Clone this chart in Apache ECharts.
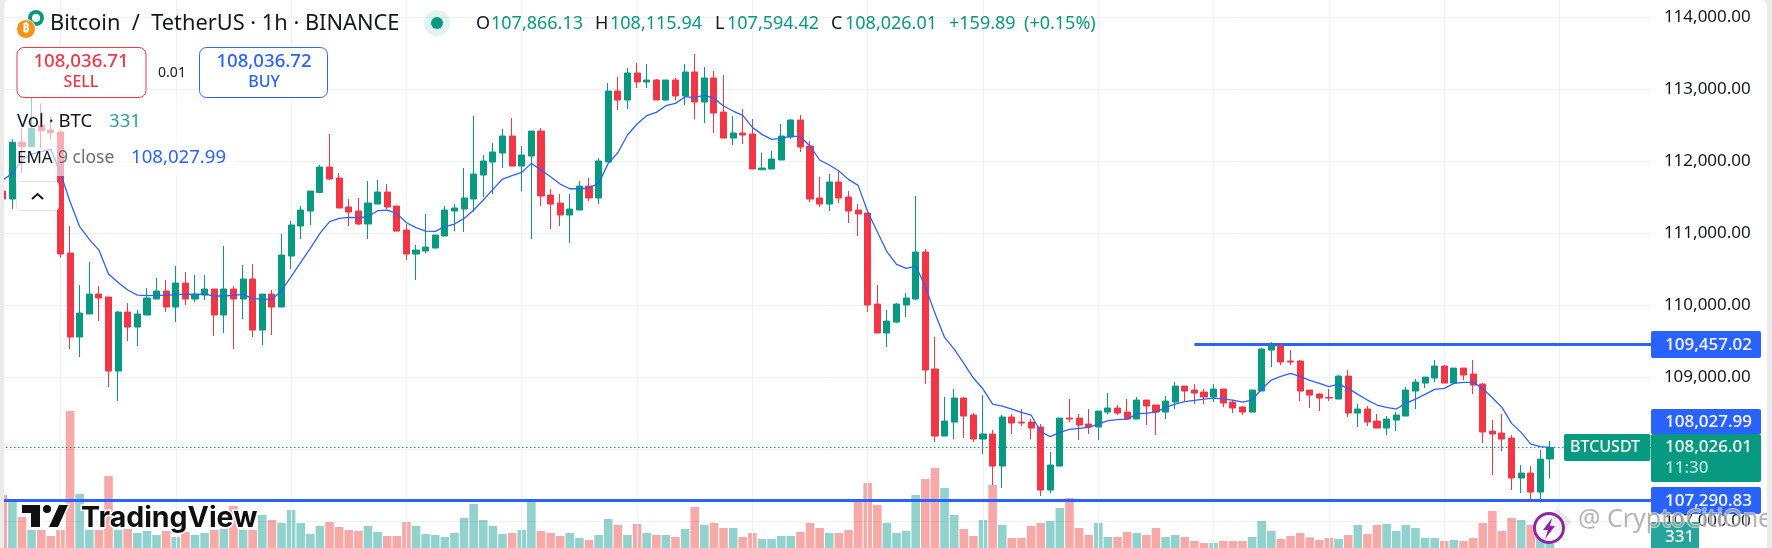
<!DOCTYPE html>
<html><head><meta charset="utf-8">
<style>
html,body{margin:0;padding:0;background:#ebebeb;overflow:hidden}
#wrap{position:absolute;left:4px;top:0;width:1763px;height:548px;background:#fff;border-radius:6px 6px 0 0;overflow:hidden}
#chart{position:absolute;left:-4px;top:0;width:1772px;height:548px}
</style>
<script src="https://cdn.jsdelivr.net/npm/echarts@6/dist/echarts.min.js"></script>
</head><body><div id="wrap"><div id="chart"></div></div>
<script>
// [open, close, low, high]
const candles=[
[111587,111476,111416,111647],[111476,112263,111337,112305],[112263,112203,111842,112457],[112203,112457,112203,112874],[112499,112425,112180,112805],[112434,112397,112295,112629],
[112407,110712,110661,112434],[110726,109559,109392,111101],[109559,109892,109281,110281],[109879,110156,109879,110601],[110156,110101,109781,110267],[110115,109087,108865,110115],
[109087,109906,108670,109920],[109906,109698,109504,110031],[109698,109879,109434,109934],[109865,110101,109865,110240],[110087,110198,110087,110379],[110198,109976,109906,110351],
[109976,110309,109767,110545],[110309,110087,110004,110462],[110087,110156,110045,110420],[110142,110226,110073,110420],[110226,109865,109573,110226],[109865,110226,109615,110823],
[110226,110087,109392,110267],[110087,110365,109809,110559],[110365,109656,109559,110573],[109656,110156,109448,110156],[110156,109976,109587,110212],[109976,110698,109976,110990],
[110684,111115,110504,111170],[111101,111323,110920,111379],[111309,111587,111115,111587],[111568,111920,111555,111948],[111920,111754,111740,112379],[111768,111351,111351,111837],
[111365,111295,111101,111476],[111309,111129,111115,111490],[111129,111420,110920,111726],[111406,111573,111406,111740],[111573,111365,111337,111684],[111379,111031,111031,111379],
[111045,110712,110629,111129],[110712,110767,110351,110837],[110754,110809,110726,111268],[110795,110976,110795,110976],[110962,111323,110962,111379],[111309,111351,111031,111406],
[111337,111490,111018,111906],[111476,111823,111295,112629],[111809,112004,111504,112087],[111990,112129,111545,112254],[112115,112351,111906,112448],[112351,111934,111934,112601],
[111934,112087,111587,112212],[112073,112420,110920,112420],[112420,111518,111379,112462],[111531,111406,111059,111615],[111420,111254,111101,111545],[111254,111337,110865,111545],
[111323,111656,111323,111726],[111656,111490,111448,111768],[111490,112004,111406,112045],[111990,112976,111990,113087],[112976,112851,112712,113170],[112851,113226,112726,113295],
[113226,113101,113018,113365],[113101,113129,113018,113351],[113129,112851,112851,113143],[112851,113129,112837,113129],[113129,112907,112851,113157],[112907,113240,112782,113351],
[113240,112823,112587,113490],[112823,113157,112532,113309],[113157,112670,112393,113254],[112684,112323,112323,113198],[112323,112393,112226,112629],[112393,112365,112240,112726],
[112379,111893,111893,112587],[111883,111906,111878,112115],[111893,112031,111893,112143],[112018,112351,112018,112518],[112337,112573,112309,112587],[112573,112198,112129,112643],
[112212,111476,111434,112282],[111490,111406,111365,111781],[111406,111712,111309,111823],[111712,111490,111420,111865],[111504,111309,111143,111587],[111323,111268,110962,111406],
[111281,110004,109906,111281],[110017,109615,109615,110281],[109615,109781,109420,109934],[109767,110017,109754,110031],[110004,110101,109837,110170],[110087,110740,110073,111518],
[110740,109101,108906,110781],[109115,108184,108101,109559],[108184,108392,108184,108726],[108378,108712,108142,108837],[108712,108462,108156,108726],[108476,108142,108101,108503],
[108142,108212,107934,108753],[108212,107767,107503,108267],[107767,108448,107462,108476],[108448,108365,108212,108490],[108378,108365,108323,108559],[108378,108295,108142,108420],
[108309,107434,107351,108351],[107434,107781,107392,107962],[107767,108434,107767,108434],[108434,108420,108378,108698],[108434,108337,108128,108490],[108351,108309,108212,108559],
[108309,108531,108128,108531],[108517,108573,108490,108781],[108573,108503,108476,108615],[108517,108420,108420,108698],[108420,108684,108420,108726],[108684,108601,108337,108684],
[108615,108517,108198,108615],[108517,108670,108420,108740],[108656,108878,108559,108934],[108878,108809,108670,108878],[108823,108781,108628,108906],[108795,108726,108628,108837],
[108726,108837,108656,108906],[108837,108642,108587,108837],[108656,108573,108503,108684],[108587,108517,108476,108601],[108517,108823,108517,108823],[108809,109392,108809,109406],
[109378,109439,109142,109490],[109439,109212,109170,109453],[109226,109212,109170,109378],[109226,108809,108670,109240],[108823,108753,108573,108823],[108767,108712,108531,108781],
[108721,108712,108670,108837],[108698,109017,108698,109031],[109017,108503,108448,109101],[108503,108559,108309,108628],[108559,108378,108323,108601],[108392,108295,108295,108490],
[108295,108420,108198,108462],[108406,108476,108253,108517],[108462,108823,108462,108865],[108809,108934,108559,108976],[108920,109003,108851,109003],[108990,109156,108934,109240],
[109156,108920,108920,109170],[108920,109128,108906,109128],[109128,109031,108962,109128],[109045,108892,108767,109240],[108906,108240,108087,108920],[108253,108212,107642,108406],
[108226,108142,107976,108490],[108156,107601,107434,108198],[107601,107670,107392,107781],[107670,107406,107281,107767],[107406,107864,107260,107990],[107866.13,108026.01,107594.42,108115.94]
];
const ema9=[
111740,111832,112018,112101,112133,112166,111832,111439,111092,110916,110767,110434,110318,110212,110142,110133,110138,110138,110147,110156,110152,110156,110129,110129,
110138,110152,110092,110087,110082,110203,110397,110596,110791,110999,111161,111207,111221,111217,111230,111314,111323,111277,111147,111078,111031,111027,111092,111129,
111207,111323,111462,111610,111754,111800,111846,111971,111879,111786,111684,111619,111619,111633,111693,111971,112119,112365,112518,112633,112680,112772,112805,112897,
112883,112920,112874,112768,112698,112638,112471,112374,112305,112319,112351,112342,112212,112018,111948,111865,111749,111666,111300,111022,110744,110568,110513,110545,
110263,109888,109554,109392,109193,108990,108837,108628,108601,108559,108513,108476,108244,108175,108235,108277,108290,108304,108351,108397,108411,108420,108490,108503,
108517,108582,108628,108661,108679,108698,108712,108698,108684,108656,108684,108837,108962,109013,109054,109013,108957,108915,108869,108906,108846,108763,108684,108615,
108582,108559,108638,108698,108763,108832,108846,108915,108929,108929,108846,108716,108582,108360,108235,108073,108036,108027.99
];
const volumes=[
1800,1680,1140,750,750,570,750,4320,1830,750,750,2370,750,780,660,720,600,720,540,690,600,660,750,780,
1470,750,750,1200,1050,960,1350,960,630,870,990,840,750,720,870,690,570,570,990,870,630,600,540,660,
1110,1530,1050,870,630,660,750,1680,720,660,570,660,510,450,600,1080,900,600,930,660,600,600,540,780,
1440,900,960,810,810,540,660,480,480,570,570,690,960,810,660,660,750,1680,2160,1500,960,660,720,1800,
2280,2610,2010,1200,780,570,1050,2100,900,510,510,870,960,1020,1410,1710,810,600,960,540,540,690,660,600,
810,540,600,540,420,360,360,420,420,420,540,1020,720,480,570,660,530,450,510,480,600,900,630,900,
930,720,900,810,510,510,420,450,420,510,960,1320,720,1110,1050,900,500,331
];
const priceTicks=[107000,108000,109000,110000,111000,112000,113000,114000];
const upperLevel=109457.02, lowerLevel=107290.83, lastPrice=108026.01, emaLast=108027.99;
const lineStartIndex=124;
const gridEvery=12, gridOffset=6;
const emptyBars=10;
const categories=Array.from({length:candles.length+emptyBars},(_,i)=>String(i));

const UP='#089981',DN='#F23645',BLUE='#2962FF',VUP='rgba(38,166,154,0.5)',VDN='rgba(239,83,80,0.5)',GRID='#f0f1f3';
const F='"Noto Sans",sans-serif';
const money=v=>v.toLocaleString('en-US',{minimumFractionDigits:2,maximumFractionDigits:2});
const txt=(x,y,s,fill,size,extra={})=>({type:'text',x,y:y+1,z:extra.z||60,silent:true,style:Object.assign({text:s,fill,font:(extra.w||'400')+' '+size+'px '+(extra.f||F),verticalAlign:'middle',align:extra.align||'left'},extra.style||{})});
const box=(x,y,w,h,fill,extra={})=>({type:'rect',z:extra.z||55,silent:true,shape:{x,y,width:w,height:h,r:extra.r||0},style:Object.assign({fill},extra.style||{})});
const poly=(pts,fill,z)=>({type:'polygon',z:z||58,silent:true,shape:{points:pts},style:{fill,stroke:'#fff',lineWidth:3,strokeFirst:true}});
const graphics=[
 box(16,99,219,77,'rgba(255,255,255,0.6)',{z:50}),
 {type:'circle',z:60,silent:true,shape:{cx:36,cy:18,r:8},style:{fill:'#089981'}},
 {type:'circle',z:61,silent:true,shape:{cx:36,cy:18,r:4},style:{fill:'#fff'}},
 {type:'circle',z:62,silent:true,shape:{cx:26,cy:29,r:9.5},style:{fill:'#F7931A',stroke:'#fff',lineWidth:1}},
 txt(26,28,'₿','#fff',12,{align:'center',w:'700',z:63}),
 txt(50,23,'Bitcoin  /  TetherUS · 1h · BINANCE','#131722',21.8),
 {type:'circle',z:60,silent:true,shape:{cx:437,cy:23,r:13},style:{fill:'rgba(8,153,129,0.12)'}},
 {type:'circle',z:61,silent:true,shape:{cx:437,cy:23,r:6},style:{fill:'#089981'}},
 txt(476,23,'O','#131722',18),txt(491,23,'107,866.13',UP,18),
 txt(595,23,'H','#131722',18),txt(610,23,'108,115.94',UP,18),
 txt(715,23,'L','#131722',18),txt(727,23,'107,594.42',UP,18),
 txt(831,23,'C','#131722',18),txt(845,23,'108,026.01',UP,18),
 txt(949,23,'+159.89',UP,18),txt(1024,23,'(+0.15%)',UP,18),
 box(17,47.5,129,50,'#fff',{r:7,z:56,style:{stroke:DN,lineWidth:1}}),
 txt(81,61,'108,036.71',DN,18.6,{align:'center',w:'500'}),txt(81,81,'SELL',DN,16,{align:'center',w:'500'}),
 txt(172,72,'0.01','#131722',14,{align:'center'}),
 box(199.5,47.5,128,50,'#fff',{r:7,z:56,style:{stroke:BLUE,lineWidth:1}}),
 txt(264,61,'108,036.72',BLUE,18.6,{align:'center',w:'500'}),txt(264,81,'BUY',BLUE,16,{align:'center',w:'500'}),
 txt(17,121,'Vol · BTC','#131722',18.6),txt(109,121,'331','#26a69a',18.6),
 txt(17,157,'EMA','#131722',17),txt(58,157,'9 close','#6a6d78',17.5),txt(131,157,money(emaLast),BLUE,18.6),
 box(16.5,181.5,42,29,'#fff',{r:4,z:56,style:{stroke:'#e0e3eb',lineWidth:1}}),
 {type:'polyline',z:60,silent:true,shape:{points:[[32,199],[37.5,194],[43,199]]},style:{stroke:'#131722',lineWidth:2,fill:null}},
 poly([[22,505],[40,505],[40,527],[31,527],[31,513],[22,513]],'#0f0f0f'),
 {type:'circle',z:58,silent:true,shape:{cx:47,cy:509,r:4},style:{fill:'#0f0f0f'}},
 poly([[59,505],[68,505],[58,527],[49,527]],'#0f0f0f'),
 txt(81,517,'TradingView','#0f0f0f',28.5,{w:'700',f:'Inter,sans-serif',z:58,style:{stroke:'#fff',lineWidth:3}}),
 box(1651,331,110,27,BLUE,{r:2}),txt(1665,344,money(upperLevel),'#fff',17,{w:'500'}),
 box(1651,409,110,25.5,BLUE,{r:2}),txt(1665,421,money(emaLast),'#fff',17,{w:'500'}),
 box(1564,434,86.5,27,UP,{r:2}),txt(1570,446.5,'BTCUSDT','#fff',16,{w:'500'}),
 box(1651,434,110,48,UP,{r:2}),txt(1665,446.5,money(lastPrice),'#fff',17,{w:'500'}),txt(1665,467.5,'11:30','rgba(255,255,255,0.7)',17,{w:'500'}),
 box(1651,487,110,27,BLUE,{r:2}),txt(1665,500,money(lowerLevel),'#fff',17,{w:'500'}),
 box(1651,522,48,30,'#26a69a'),txt(1665,536,'331','#fff',17,{w:'500'}),
 {type:'circle',z:70,silent:true,shape:{cx:1549,cy:528,r:14.5},style:{fill:'rgba(255,255,255,0.35)',stroke:'#8e24aa',lineWidth:3}},
 {type:'polygon',z:71,silent:true,shape:{points:[[1552,518],[1543,530],[1548,530],[1545,539],[1555,526],[1550,526]]},style:{fill:'#8e24aa'}},
 {type:'polygon',z:69,silent:true,shape:{points:[[1557,508],[1572,522],[1557,536],[1543,522]]},style:{fill:'rgba(170,170,170,0.25)'}},
 txt(1578,519,'@ CryptoCitiOne','rgba(130,130,130,0.6)',25,{z:70,style:{stroke:'rgba(255,255,255,0.6)',lineWidth:2}})
];
const verticalGrid=categories.filter((c,i)=>(i-gridOffset)%gridEvery===0&&i<categories.length-2)
  .map(c=>({xAxis:c,lineStyle:{color:GRID,type:'solid',width:1}}));

const option={
 animation:false,backgroundColor:'transparent',
 grid:[
  {left:-2,width:1652.9,top:-54.7,height:648,containLabel:false,outerBoundsMode:'none'},
  {left:-2,width:1652.9,top:400,height:155,containLabel:false,outerBoundsMode:'none'}
 ],
 xAxis:[
  {type:'category',gridIndex:0,data:categories,boundaryGap:true,axisLine:{show:false},axisTick:{show:false},axisLabel:{show:false},splitLine:{show:false}},
  {type:'category',gridIndex:1,data:categories,show:false}
 ],
 yAxis:[
  {type:'value',gridIndex:0,position:'right',min:106000,max:115000,interval:1000,axisLine:{show:false},axisTick:{show:false},
   axisLabel:{margin:13,color:'#131722',fontSize:17,fontFamily:F,formatter:v=>priceTicks.includes(v)?money(v):''},
   splitLine:{show:true,lineStyle:{color:GRID,width:1}}},
  {type:'value',gridIndex:1,min:0,max:4650,show:false}
 ],
 series:[
  {type:'bar',name:'Vol',xAxisIndex:1,yAxisIndex:1,barWidth:8.6,z:1,silent:true,
   data:volumes.map((v,i)=>({value:v,itemStyle:{color:candles[i][1]>=candles[i][0]?VUP:VDN}}))},
  {type:'candlestick',name:'BTCUSDT',xAxisIndex:0,yAxisIndex:0,barWidth:6.6,z:3,silent:true,data:candles,
   itemStyle:{color:UP,color0:DN,borderColor:UP,borderColor0:DN,borderWidth:1},
   markLine:{silent:true,symbol:'none',label:{show:false},animation:false,z:2,data:[
    ...verticalGrid,
    {yAxis:lastPrice,lineStyle:{color:UP,type:[1.5,2.5],width:1}},
    {yAxis:lowerLevel,lineStyle:{color:BLUE,type:'solid',width:3}},
    [{coord:[String(lineStartIndex),upperLevel],lineStyle:{color:BLUE,type:'solid',width:3}},{coord:[categories[categories.length-1],upperLevel],x:1651}]
   ]}},
  {type:'line',name:'EMA 9',xAxisIndex:0,yAxisIndex:0,data:ema9,showSymbol:false,symbol:'none',z:4,silent:true,lineStyle:{color:BLUE,width:1.3}}
 ],
 graphic:graphics
};
echarts.init(document.getElementById('chart'),null,{renderer:'canvas'}).setOption(option);
</script></body></html>
